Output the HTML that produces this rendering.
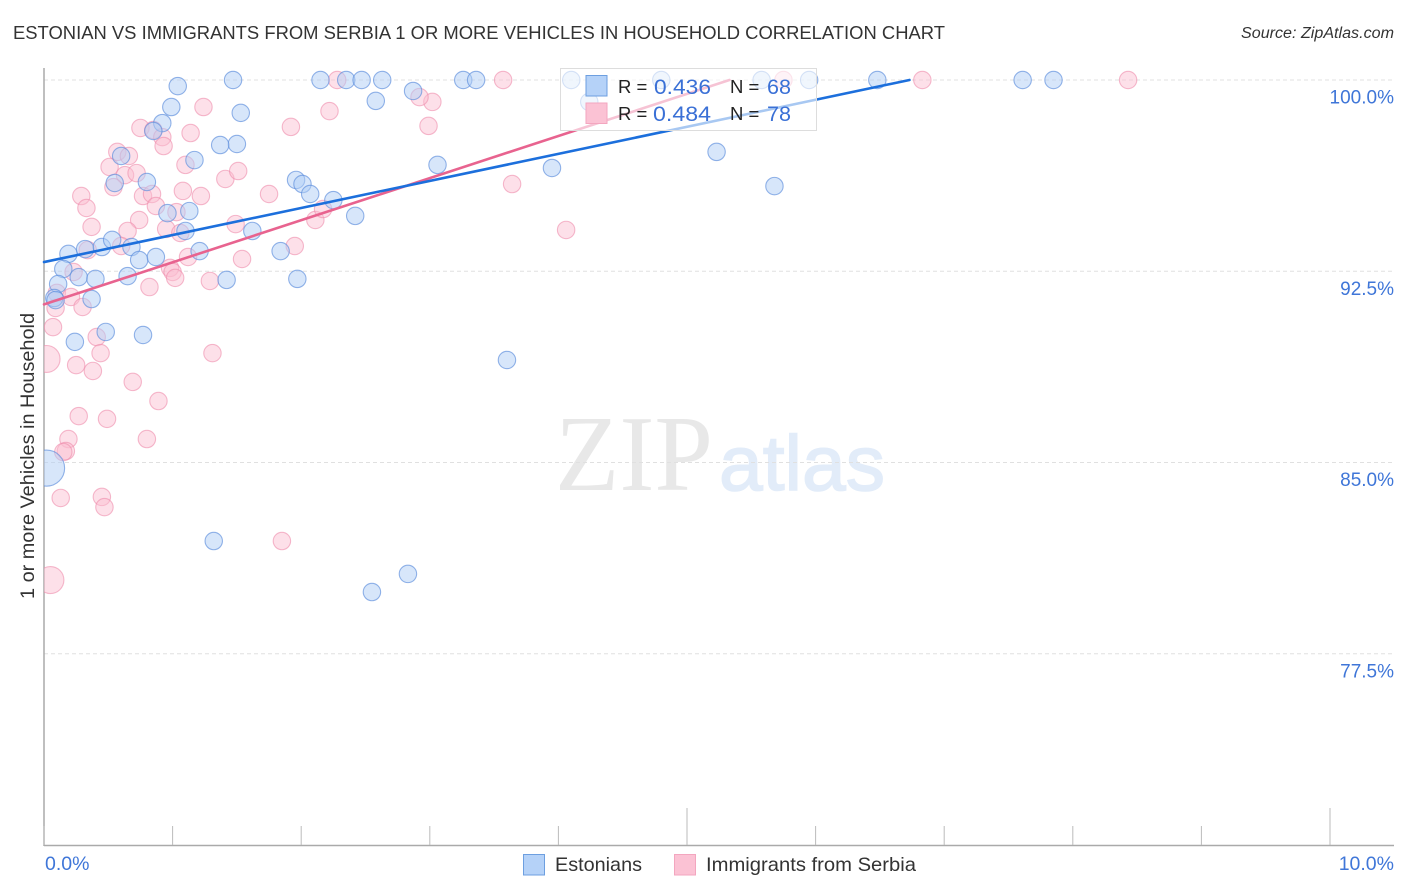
<!DOCTYPE html>
<html lang="en">
<head>
<meta charset="utf-8">
<title>Estonian vs Immigrants from Serbia correlation chart</title>
<style>
html,body{margin:0;padding:0;background:#fff;width:1406px;height:892px;overflow:hidden}
svg{display:block}
text{font-family:"Liberation Sans",sans-serif}
</style>
</head>
<body>
<svg id="chart" xmlns="http://www.w3.org/2000/svg" width="1406" height="892" viewBox="0 0 1406 892">
  <defs>
    <clipPath id="plot-clip"><rect x="44" y="60" width="1350" height="785"/></clipPath>
  </defs>
  <text x="13" y="39" font-size="18.5" fill="#333" textLength="932" lengthAdjust="spacingAndGlyphs">ESTONIAN VS IMMIGRANTS FROM SERBIA 1 OR MORE VEHICLES IN HOUSEHOLD CORRELATION CHART</text>
  <text x="1241" y="38" font-size="15.5" font-style="italic" fill="#333" textLength="153" lengthAdjust="spacingAndGlyphs">Source: ZipAtlas.com</text>

  <g>
    <text x="555" y="490" font-size="108" fill="#e8e8e8" style="font-family:'Liberation Serif',serif" textLength="158" lengthAdjust="spacingAndGlyphs">ZIP</text>
    <text x="719" y="490" font-size="78" fill="#e2ecf9" stroke="#e2ecf9" stroke-width="1.5" textLength="166" lengthAdjust="spacingAndGlyphs">atlas</text>
  </g>

  <g id="grid"></g>
  <g id="axes"></g>
  <g id="points" clip-path="url(#plot-clip)"></g>
  <g id="trends"></g>

  <text transform="translate(34,456) rotate(-90)" font-size="19.5" fill="#333" text-anchor="middle" textLength="286" lengthAdjust="spacingAndGlyphs">1 or more Vehicles in Household</text>

  <g>
    <rect x="560.5" y="68.5" width="256" height="62" fill="#fff" fill-opacity="0.62" stroke="#ddd" stroke-width="1"/>
    <rect x="586" y="75.5" width="21" height="20.5" fill="#b5d2f8" stroke="#6d9fe0" stroke-width="1"/>
    <rect x="586" y="103" width="21" height="20.5" fill="#fbc2d4" stroke="#f3a6bf" stroke-width="1"/>
    <text x="618" y="93" font-size="18.5" fill="#222">R =</text>
    <text x="654" y="94" font-size="21" fill="#3a70d6" textLength="57" lengthAdjust="spacingAndGlyphs">0.436</text>
    <text x="730" y="93" font-size="18.5" fill="#222">N =</text>
    <text x="767" y="94" font-size="21" fill="#3a70d6" textLength="24" lengthAdjust="spacingAndGlyphs">68</text>
    <text x="618" y="120" font-size="18.5" fill="#222">R =</text>
    <text x="653" y="121" font-size="21" fill="#3a70d6" textLength="58" lengthAdjust="spacingAndGlyphs">0.484</text>
    <text x="730" y="120" font-size="18.5" fill="#222">N =</text>
    <text x="767" y="121" font-size="21" fill="#3a70d6" textLength="24" lengthAdjust="spacingAndGlyphs">78</text>
  </g>

  <g>
    <rect x="523.5" y="854.5" width="21" height="20.5" fill="#b5d2f8" stroke="#6d9fe0" stroke-width="1"/>
    <text x="555" y="871" font-size="19.5" fill="#333" textLength="87" lengthAdjust="spacingAndGlyphs">Estonians</text>
    <rect x="674.5" y="854.5" width="21" height="20.5" fill="#fbc2d4" stroke="#f3a6bf" stroke-width="1"/>
    <text x="706" y="871" font-size="19.5" fill="#333" textLength="210" lengthAdjust="spacingAndGlyphs">Immigrants from Serbia</text>
  </g>
</svg>
<script>
const yTickValues = [100, 92.5, 85, 77.5];
const yTickLabels = ["100.0%", "92.5%", "85.0%", "77.5%"];
const xTickValues = [0, 1, 2, 3, 4, 5, 6, 7, 8, 9, 10];
const xMajorTicks = [5, 10];
const xEndValues = [0, 10];
const xEndLabels = ["0.0%", "10.0%"];

const estoniansX = [1.04,1.47,2.15,2.35,2.47,2.63,3.26,3.36,4.10,4.80,5.58,5.95,6.48,7.61,7.85,0.99,1.53,2.58,2.87,4.24,0.92,0.85,1.50,1.37,1.17,0.60,0.80,0.55,3.06,3.95,5.23,5.68,1.96,2.01,2.07,2.25,2.42,0.96,1.13,1.10,1.62,1.21,0.19,0.32,0.45,0.53,0.68,0.74,0.87,0.15,0.27,0.40,0.65,1.42,1.84,1.97,0.11,0.08,0.09,0.37,0.48,0.77,0.24,3.60,1.32,2.83,2.55];
const estoniansY = [99.76,100,100,100,100,100,100,100,100,100,100,100,100,100,100,98.94,98.71,99.18,99.57,99.14,98.31,98.0,97.49,97.45,96.86,97.02,96.0,95.96,96.67,96.55,97.18,95.84,96.08,95.92,95.53,95.29,94.67,94.78,94.86,94.08,94.08,93.29,93.18,93.37,93.45,93.73,93.45,92.94,93.06,92.59,92.27,92.2,92.31,92.16,93.29,92.2,92.0,91.45,91.37,91.41,90.12,90.0,89.73,89.02,81.92,80.63,79.92];
const estoniansLargeX = [0.02];
const estoniansLargeY = [84.78];
const estoniansLargeWeight = [4.3];

const serbiaX = [3.57,2.28,6.83,8.43,5.75,1.24,2.22,1.92,3.02,2.92,2.99,0.75,0.85,0.92,0.93,1.14,0.57,0.66,0.51,0.63,0.72,0.54,0.29,0.33,0.37,0.77,0.84,0.87,1.08,1.10,1.22,1.41,1.51,1.75,0.74,0.65,0.95,1.03,1.06,1.49,2.11,2.17,1.95,1.54,1.12,0.98,1.00,1.02,1.29,0.82,0.60,0.34,0.23,0.10,0.21,0.30,0.09,0.07,0.41,0.44,1.31,0.25,0.38,0.69,0.89,0.27,0.49,0.80,0.19,0.17,0.15,0.13,0.45,0.47,1.85,3.64,4.06];
const serbiaY = [100,100,100,100,100,98.94,98.78,98.16,99.14,99.33,98.2,98.12,98.04,97.76,97.41,97.92,97.18,97.02,96.59,96.27,96.35,95.8,95.45,94.98,94.24,95.45,95.53,95.06,95.65,96.67,95.45,96.12,96.43,95.53,94.51,94.08,94.16,94.82,94.0,94.35,94.51,94.94,93.49,92.98,93.06,92.63,92.47,92.24,92.12,91.88,93.49,93.33,92.47,91.65,91.49,91.1,91.06,90.31,89.92,89.29,89.29,88.82,88.59,88.16,87.41,86.82,86.71,85.92,85.92,85.45,85.41,83.61,83.65,83.25,81.92,95.92,94.12];
const serbiaLargeX = [0.02, 0.05];
const serbiaLargeY = [89.06, 80.39];
const serbiaLargeWeight = [2.4, 2.4];

const estoniansTrendX = [0, 6.73];
const estoniansTrendY = [92.86, 100];
const serbiaTrendX = [0, 5.33];
const serbiaTrendY = [91.2, 100];

const SVG_NS = "http://www.w3.org/2000/svg";
const xScale = v => 44 + v * 128.6;
const yScale = v => 80 + (100 - v) * 25.5;
const radius = w => 8.7 * Math.sqrt(w);
const gridLayer = document.getElementById("grid");
const axesLayer = document.getElementById("axes");
const pointsLayer = document.getElementById("points");
const trendsLayer = document.getElementById("trends");

function attrs(el, map) {
  Object.keys(map).forEach(k => el.setAttribute(k, map[k]));
  return el;
}

yTickValues.forEach((v, i) => {
  const line = attrs(document.createElementNS(SVG_NS, "line"), {x1: 44, x2: 1394, y1: yScale(v), y2: yScale(v), stroke: "#e0e0e0", "stroke-width": 1, "stroke-dasharray": "4 3"});
  
  
  gridLayer.appendChild(line);
  const label = attrs(document.createElementNS(SVG_NS, "text"), {x: 1394, y: yScale(v) + 23.5, "font-size": 19, fill: "#3f76d8", "text-anchor": "end"});
  
  
  label.textContent = yTickLabels[i];
  axesLayer.appendChild(label);
});

const yAxis = attrs(document.createElementNS(SVG_NS, "line"), {x1: 44, x2: 44, y1: 68, y2: 846, stroke: "#aaa", "stroke-width": 1.5});


axesLayer.appendChild(yAxis);

const xAxis = attrs(document.createElementNS(SVG_NS, "line"), {x1: 44, x2: 1394, y1: 845.5, y2: 845.5, stroke: "#aaa", "stroke-width": 1.5});


axesLayer.appendChild(xAxis);

xTickValues.forEach(v => {
  const top = xMajorTicks.includes(v) ? 808 : 826;
  const tick = attrs(document.createElementNS(SVG_NS, "line"), {x1: xScale(v), x2: xScale(v), y1: top, y2: 845, stroke: "#bbb", "stroke-width": 1});
  
  
  axesLayer.appendChild(tick);
});

xEndValues.forEach((v, i) => {
  const label = attrs(document.createElementNS(SVG_NS, "text"), {x: i === 0 ? xScale(v) + 1 : 1394, y: 870, "font-size": 19.5, fill: "#3f76d8", "text-anchor": i === 0 ? "start" : "end"});
  
  
  label.textContent = xEndLabels[i];
  axesLayer.appendChild(label);
});

function drawPoint(x, y, weight, fill, stroke, name) {
  const c = attrs(document.createElementNS(SVG_NS, "circle"), {cx: xScale(x), cy: yScale(y), r: radius(weight), fill: fill, stroke: stroke, "stroke-width": 1.1});
  
  
  pointsLayer.appendChild(c);
}

const serbiaFill = "rgba(250,190,208,0.47)";
const serbiaStroke = "rgba(238,140,172,0.6)";
const estoniansFill = "rgba(175,205,245,0.5)";
const estoniansStroke = "rgba(90,140,220,0.65)";

serbiaX.forEach((x, i) => drawPoint(x, serbiaY[i], 1, serbiaFill, serbiaStroke, "serbia-point"));
serbiaLargeX.forEach((x, i) => drawPoint(x, serbiaLargeY[i], serbiaLargeWeight[i], serbiaFill, serbiaStroke, "serbia-point-large"));
estoniansX.forEach((x, i) => drawPoint(x, estoniansY[i], 1, estoniansFill, estoniansStroke, "estonians-point"));
estoniansLargeX.forEach((x, i) => drawPoint(x, estoniansLargeY[i], estoniansLargeWeight[i], estoniansFill, estoniansStroke, "estonians-point-large"));

function drawTrend(xs, ys, color, name) {
  const l = attrs(document.createElementNS(SVG_NS, "line"), {x1: xScale(xs[0]), y1: yScale(ys[0]), x2: xScale(xs[1]), y2: yScale(ys[1]), stroke: color, "stroke-width": 2.6, "stroke-linecap": "round"});
  
  
  trendsLayer.appendChild(l);
}
drawTrend(serbiaTrendX, serbiaTrendY, "#e8638f", "serbia-trend-line");
drawTrend(estoniansTrendX, estoniansTrendY, "#1c6fdc", "estonians-trend-line");
</script>
</body>
</html>
